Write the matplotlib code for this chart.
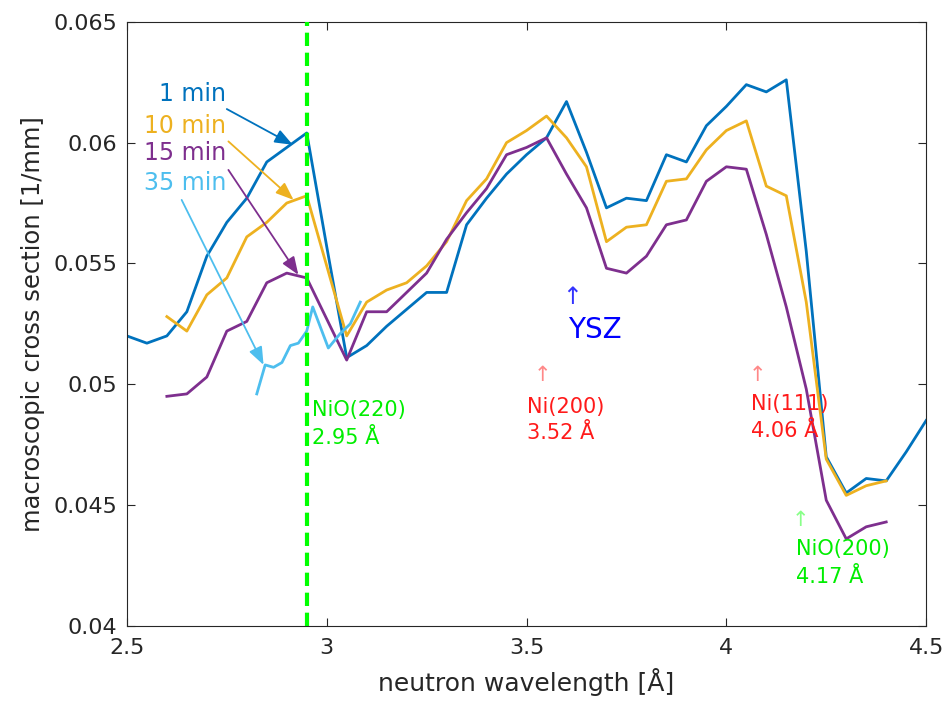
import numpy as np
import matplotlib
matplotlib.use("Agg")
import matplotlib.pyplot as plt

plt.rcParams['font.family'] = ['DejaVu Sans']

# wavelength grids [Å]
wl_1min = np.round(np.arange(2.50, 4.501, 0.05), 2)
wl_mid = np.round(np.arange(2.60, 4.401, 0.05), 2)
wl_35min = [2.825, 2.846, 2.867, 2.888, 2.909, 2.929, 2.950, 2.965, 3.004, 3.034, 3.059, 3.084]

# macroscopic cross section [1/mm]
sig_1min = [0.0520, 0.0517, 0.0520, 0.0530, 0.0553, 0.0567, 0.0577, 0.0592, 0.0598, 0.0604,
            0.0557, 0.0511, 0.0516, 0.0524, 0.0531, 0.0538, 0.0538, 0.0566, 0.0577, 0.0587,
            0.0595, 0.0602, 0.0617, 0.0596, 0.0573, 0.0577, 0.0576, 0.0595, 0.0592, 0.0607,
            0.0615, 0.0624, 0.0621, 0.0626, 0.0555, 0.0470, 0.0455, 0.0461, 0.0460, 0.0472,
            0.0485]
sig_10min = [0.0528, 0.0522, 0.0537, 0.0544, 0.0561, 0.0567, 0.0575, 0.0578, 0.0549, 0.0520,
             0.0534, 0.0539, 0.0542, 0.0549, 0.0559, 0.0576, 0.0585, 0.0600, 0.0605, 0.0611,
             0.0602, 0.0590, 0.0559, 0.0565, 0.0566, 0.0584, 0.0585, 0.0597, 0.0605, 0.0609,
             0.0582, 0.0578, 0.0534, 0.0469, 0.0454, 0.0458, 0.0460]
sig_15min = [0.0495, 0.0496, 0.0503, 0.0522, 0.0526, 0.0542, 0.0546, 0.0544, 0.0527, 0.0510,
             0.0530, 0.0530, 0.0538, 0.0546, 0.0560, 0.0571, 0.0581, 0.0595, 0.0598, 0.0602,
             0.0587, 0.0573, 0.0548, 0.0546, 0.0553, 0.0566, 0.0568, 0.0584, 0.0590, 0.0589,
             0.0562, 0.0532, 0.0498, 0.0452, 0.0436, 0.0441, 0.0443]
sig_35min = [0.0496, 0.0508, 0.0507, 0.0509, 0.0516, 0.0517, 0.0522, 0.0532, 0.0515, 0.0521,
             0.0525, 0.0534]

c_blue = '#0072BD'
c_orange = '#EDB120'
c_purple = '#7E2F8E'
c_cyan = '#4DBEEE'
c_green = '#00EE00'
c_red = '#FF1A1A'

fig = plt.figure(figsize=(9.47, 7.04), dpi=100)
ax = fig.add_axes([0.134, 0.111, 0.844, 0.858])

ax.axvline(2.95, color='#00FF00', lw=3, ls=(0, (3.2, 1.6)), zorder=3)

ax.plot(wl_1min, sig_1min, color=c_blue, lw=2)
ax.plot(wl_mid, sig_10min, color=c_orange, lw=2)
ax.plot(wl_mid, sig_15min, color=c_purple, lw=2)
ax.plot(wl_35min, sig_35min, color=c_cyan, lw=2)

# series labels with arrows
labels = [("1 min", c_blue, (2.580, 0.06202), (2.750, 0.06139), (2.915, 0.05991)),
          ("10 min", c_orange, (2.543, 0.06067), (2.754, 0.06005), (2.917, 0.05763)),
          ("15 min", c_purple, (2.543, 0.05958), (2.754, 0.05887), (2.929, 0.05453)),
          ("35 min", c_cyan, (2.543, 0.05832), (2.637, 0.05763), (2.842, 0.05080))]
for txt, c, pos, tail, head in labels:
    ax.text(pos[0], pos[1], txt, color=c, fontsize=17, va='center', ha='left')
    ax.annotate('', xy=head, xytext=tail,
                arrowprops=dict(arrowstyle='-|>,head_length=0.9,head_width=0.35',
                                color=c, lw=1.3, mutation_scale=12,
                                shrinkA=0, shrinkB=0))

# peak markers
fs = 15
ax.text(2.964, 0.04894, "NiO(220)", color=c_green, fontsize=fs, va='center')
ax.text(2.964, 0.04778, "2.95 Å", color=c_green, fontsize=fs, va='center')

ax.text(3.54, 0.0504, "↑", color='#FF8888', fontsize=fs, va='center', ha='center')
ax.text(3.502, 0.04907, "Ni(200)", color=c_red, fontsize=fs, va='center')
ax.text(3.502, 0.04799, "3.52 Å", color=c_red, fontsize=fs, va='center')

ax.text(4.077, 0.0504, "↑", color='#FF8888', fontsize=fs, va='center', ha='center')
ax.text(4.061, 0.04919, "Ni(111)", color=c_red, fontsize=fs, va='center')
ax.text(4.061, 0.04807, "4.06 Å", color=c_red, fontsize=fs, va='center')

ax.text(4.185, 0.0444, "↑", color='#88FF88', fontsize=fs, va='center', ha='center')
ax.text(4.174, 0.04319, "NiO(200)", color=c_green, fontsize=fs, va='center')
ax.text(4.174, 0.04203, "4.17 Å", color=c_green, fontsize=fs, va='center')

ax.text(3.615, 0.0536, "↑", color='#3333FF', fontsize=17, va='center', ha='center')
ax.text(3.605, 0.05225, "YSZ", color='#0000FF', fontsize=20, va='center')

ax.set_xlim(2.5, 4.5)
ax.set_ylim(0.04, 0.065)
ax.set_xticks([2.5, 3, 3.5, 4, 4.5])
ax.set_xticklabels(["2.5", "3", "3.5", "4", "4.5"])
ax.set_yticks([0.04, 0.045, 0.05, 0.055, 0.06, 0.065])
ax.set_yticklabels(["0.04", "0.045", "0.05", "0.055", "0.06", "0.065"])
ax.tick_params(direction='in', length=6, width=0.8, colors='#262626', labelsize=16,
               top=True, right=True)
ax.tick_params(axis='x', pad=9)
ax.tick_params(axis='y', pad=7)
for s in ax.spines.values():
    s.set_color('#262626')
    s.set_linewidth(0.8)

ax.set_xlabel("neutron wavelength [Å]", fontsize=18, color='#262626', labelpad=7)
ax.set_ylabel("macroscopic cross section [1/mm]", fontsize=17.5, color='#262626', labelpad=6)

fig.savefig("out.png", dpi=100)
